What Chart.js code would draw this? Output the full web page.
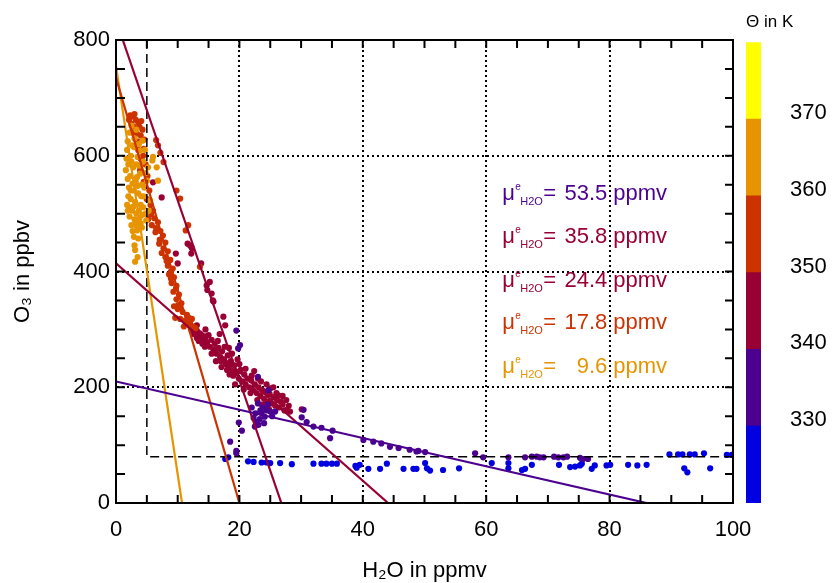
<!DOCTYPE html>
<html>
<head>
<meta charset="utf-8">
<script src="https://cdn.jsdelivr.net/npm/chart.js@4"></script>
<style>
  body { margin: 0; background: #fff; }
  #grafico { position: absolute; left: 0; top: 0; }
  #barra { position: absolute; left: 736px; top: 0; }
</style>
</head>
<body>
<canvas id="grafico" width="833" height="583"></canvas>
<canvas id="barra" width="97" height="583"></canvas>
<script>
// puntos medidos (H2O ppmv, O3 ppbv) por banda de temperatura potencial
const puntosNaranja = [
  [2.5,652],[2.9,615],[3.9,609],[2.2,640],[3.0,630],[2.4,600],[3.5,598],[2.0,585],[2.8,580],[3.9,569],
  [2.3,565],[3.2,555],[4.2,550],[2.1,545],[2.9,540],[3.6,535],[4.5,530],[2.4,525],[3.1,520],[4.0,515],
  [4.4,511],[2.6,505],[3.3,500],[4.8,500],[2.2,495],[3.0,490],[3.8,492],[4.9,488],[2.5,480],[3.4,478],
  [4.2,476],[3.4,471],[3.6,457],[3.1,437],[3.1,417],[3.5,425],[3.0,445],[6.0,598],[6.6,580],[6.8,557],
  [5.0,557],[5.5,523],[4.6,545],[5.2,580],[1.8,610],[1.6,575],[2.0,530],[4.4,590],[3.7,620],[2.7,470],
  [2.9,460],[5.3,505],[3.3,585],[4.1,530],[4.7,610],[4.3,626],[5.9,592],
  [1.9,625],[2.6,618],[3.3,645],[1.7,595],[2.5,590],[3.8,583],[1.9,560],[2.7,552],[3.5,548],[1.8,515],
  [2.8,512],[3.7,505],[4.3,498],[1.9,505],[3.2,485],[4.0,483],[2.4,540],[3.4,563],[4.8,570],[2.3,510]
];
const puntosRojo = [
  [2.3,670],[2.8,668],[3.2,662],[2.5,655],[3.8,650],[4.3,645],[2.7,640],[4.0,635],[4.6,628],[3.5,625],
  [6.5,627],[6.8,618],[7.2,605],[7.7,589],[9.8,540],[10.4,526],[11.7,480],[13.6,408],[11.3,471],
  [3.6,610],[4.4,600],[4.8,585],[3.9,575],[5.1,565],[4.5,555],[5.4,540],[5.0,525],[5.6,515],[6.0,505],
  [5.4,498],[6.2,492],[6.8,485],[6.5,475],[7.2,470],[7.6,462],[7.1,455],[8.0,450],[7.7,440],[8.4,435],
  [8.0,425],[8.8,420],[8.4,410],[9.2,405],[8.6,395],[9.4,390],[9.0,380],[9.8,375],[9.3,365],[10.2,360],
  [9.8,352],[10.6,345],[9.4,340],[10.0,335],[10.8,330],[11.5,325],[9.6,320],[10.4,318],[11.2,315],
  [12.0,310],[12.5,305],[11.0,305],[5.2,490],[5.8,480],[8.9,400],[10.1,342],
  [2.1,662],[3.0,672],[3.6,658],[4.1,660],[2.9,650],[3.4,638],[4.5,612],[4.0,595],[5.7,500],[6.4,468],
  [7.0,448],[7.4,432],[8.2,418],[8.9,388],[9.7,370],[10.3,338],[11.8,320],[12.3,318],[12.9,302]
];
const puntosCarmesi = [
  [6.0,554],[7.4,528],[12.0,445],[12.3,440],[15.2,382],[15.5,362],[11.6,448],[12.2,431],[13.8,414],
  [14.8,368],[15.7,350],[9.7,431],[10.0,414],[14.7,376],[15.8,348],[17.4,322],[17.7,307],[13.1,307],
  [11.5,310],[12.2,300],[12.8,305],[13.1,298],[13.1,285],[13.6,293],[13.9,290],[14.2,282],[14.6,288],
  [14.0,275],[14.8,278],[15.2,270],[15.5,282],[15.8,265],[16.0,275],[16.3,258],[16.6,268],[16.9,252],
  [17.2,262],[17.0,245],[17.5,248],[17.8,240],[18.1,255],[18.3,235],[18.6,245],[18.9,228],[19.2,238],
  [19.0,220],[19.6,225],[19.9,215],[20.2,230],[20.5,210],[20.8,222],[21.0,205],[21.3,215],[21.6,200],
  [21.9,212],[22.2,195],[22.5,205],[22.8,190],[23.1,200],[23.4,185],[23.7,195],[24.0,180],[24.3,192],
  [24.6,175],[24.9,188],[25.2,172],[25.5,183],[25.8,168],[26.1,178],[26.4,165],[26.7,175],[27.0,170],
  [27.3,160],[27.6,178],[28.0,168],[28.2,158],[18.0,230],[16.2,245],[14.5,300],[20.0,240],[22.0,220],
  [23.5,210],[25.5,200],[26.0,190],[27.0,185],[27.7,161],[30.1,162],[23.6,170],[24.8,162],
  [13.4,280],[15.0,290],[16.5,280],[17.6,270],[18.8,258],[19.7,248],[21.0,232],[22.4,228],[23.0,215],
  [24.4,205],[25.0,198],[26.3,186],[15.5,258],[17.1,235],[18.4,222],[20.7,196],[22.9,178],[24.2,170],
  [21.8,190],[19.3,205],[14.4,270],[12.6,292],[16.8,292],[18.3,268]
];
const puntosPurpura = [
  [19.5,298],[19.8,267],[20.1,273],[18.5,106],[19.9,139],[20.4,125],[19.5,90],[19.5,86],
  [22.3,147],[22.5,132],[23.0,172],[23.6,155],[24.1,149],[25.0,158],[25.8,158],[22.8,140],[23.3,145],
  [23.8,165],[24.4,160],[22.6,155],[23.1,135],[24.6,170],[23.4,160],[24.0,138],[22.0,165],[25.3,150],
  [23.0,218],[24.7,195],
  [30.1,148],[30.9,140],[32.0,132],[33.3,130],[34.7,112],[35.1,125],[30.4,161],
  [40.1,109],[41.7,106],[43.0,103],[44.4,97],[45.8,95],[47.6,92],[48.7,89],[50.1,88],[49.0,90],
  [58.2,86],[59.5,79],[63.6,79],[66.3,79],[67.4,80],[68.2,80],[68.7,79],[69.3,79],[71.0,80],[71.7,79],
  [72.5,79],[73.1,80],[75.2,78],[75.7,76],[76.5,76]
];
const puntosAzul = [
  [17.7,76],[18.2,79],[21.4,72],[22.3,71],[23.6,70],[24.4,70],[25.0,69],[26.6,69],[28.5,67],[32.0,68],
  [33.3,68],[34.1,68],[35.0,68],[35.8,68],[39.0,61],[39.5,66],[40.9,59],[42.8,59],[43.9,68],[46.6,59],
  [48.2,59],[48.7,59],[50.1,69],[50.4,60],[50.9,56],[53.0,57],[55.6,60],[60.9,69],[63.6,69],[63.6,60],
  [65.8,57],[66.3,59],[67.4,66],[71.8,66],[73.6,62],[74.4,63],[75.2,65],[75.5,68],[77.1,59],[77.6,65],
  [79.5,65],[80.1,66],[83.0,66],[84.5,65],[86.0,66],[89.7,84],[91.1,84],[91.8,84],[92.1,60],[92.6,53],
  [93.0,84],[93.8,84],[95.3,86],[96.3,60],[99.0,83],[99.8,83],[38.8,64]
];

// rectas de ajuste (extremos)
const rectaNaranja = [[0,755],[10.7,0]];
const rectaRojo = [[0,735],[20,0]];
const rectaCarmesi1 = [[1.1,800],[26.8,0]];
const rectaCarmesi2 = [[0,414],[44.1,0]];
const rectaPurpura = [[0,210],[86,0]];
const limites = [[5,800],[5,80],[100,80]];

// etiquetas mu
const valoresMu = ["53.5", "35.8", "24.4", "17.8", "9.6"];
const filasMu = [523, 449, 374, 300, 225];
const coloresMu = ["#4B0090", "#990033", "#990033", "#CC3300", "#E69500"];

// barra de colores
const limitesTheta = [320, 330, 340, 350, 360, 370];
const coloresTheta = ["#0000E0", "#4B0090", "#990033", "#CC3300", "#E69500", "#FFFF00"];

const fuente = '"Liberation Sans", Arial, Helvetica, sans-serif';
const aXY = arr => arr.map(p => ({ x: p[0], y: p[1] }));

function puntos(datos, color) {
  return { data: aXY(datos), backgroundColor: color, borderWidth: 0, pointRadius: 3.1, showLine: false };
}
function recta(datos, color, dash) {
  return { data: aXY(datos), borderColor: color, borderWidth: dash ? 1.5 : 2.2, borderDash: dash || [],
           pointRadius: 0, showLine: true, fill: false };
}

const marco = {
  id: "marco",
  afterDatasetsDraw(chart) {
    const { ctx, chartArea: a, scales } = chart;
    ctx.save();
    ctx.strokeStyle = "#000";
    ctx.lineWidth = 2;
    ctx.setLineDash([]);
    ctx.beginPath();
    scales.x.ticks.forEach(t => {
      if (t.value === 0 || t.value === 100) return;
      const px = scales.x.getPixelForValue(t.value);
      ctx.moveTo(px, a.bottom); ctx.lineTo(px, a.bottom - 8);
      ctx.moveTo(px, a.top); ctx.lineTo(px, a.top + 8);
    });
    scales.y.ticks.forEach(t => {
      if (t.value === 0 || t.value === 800) return;
      const py = scales.y.getPixelForValue(t.value);
      ctx.moveTo(a.left, py); ctx.lineTo(a.left + 9, py);
      ctx.moveTo(a.right, py); ctx.lineTo(a.right - 8, py);
    });
    ctx.stroke();
    ctx.strokeRect(a.left, a.top, a.right - a.left, a.bottom - a.top);
    ctx.restore();
  }
};

const textosMu = {
  id: "textosMu",
  afterDatasetsDraw(chart) {
    const { ctx, scales } = chart;
    const x0 = scales.x.getPixelForValue(62.6);
    ctx.save();
    filasMu.forEach((fila, i) => {
      const y = scales.y.getPixelForValue(fila);
      ctx.fillStyle = coloresMu[i];
      ctx.textBaseline = "alphabetic";
      ctx.textAlign = "left";
      ctx.font = "22px " + fuente;
      ctx.fillText("μ", x0, y);
      ctx.font = "10px " + fuente;
      ctx.fillText("e", x0 + 13, y - 10);
      ctx.font = "11px " + fuente;
      ctx.fillText("H2O", x0 + 18, y + 5);
      ctx.font = "22px " + fuente;
      ctx.fillText("=", x0 + 41, y);
      ctx.textAlign = "right";
      ctx.fillText(valoresMu[i], x0 + 105, y);
      ctx.textAlign = "left";
      ctx.fillText("ppmv", x0 + 111, y);
    });
    ctx.restore();
  }
};

new Chart(document.getElementById("grafico"), {
  type: "scatter",
  data: {
    datasets: [
      recta(rectaPurpura, "#4B0090"),
      recta(rectaCarmesi2, "#990033"),
      recta(rectaCarmesi1, "#990033"),
      recta(rectaRojo, "#CC3300"),
      recta(rectaNaranja, "#E69500"),
      recta(limites, "#000", [9, 5]),
      puntos(puntosNaranja, "#E69500"),
      puntos(puntosPurpura, "#4B0090"),
      puntos(puntosRojo, "#CC3300"),
      puntos(puntosCarmesi, "#990033"),
      puntos(puntosAzul, "#0000E0")
    ]
  },
  options: {
    responsive: false,
    animation: false,
    layout: { padding: { top: 40, right: 100, left: 0, bottom: 0 } },
    plugins: { legend: { display: false }, tooltip: { enabled: false } },
    scales: {
      x: {
        type: "linear", min: 0, max: 100,
        ticks: {
          stepSize: 5, autoSkip: false, maxRotation: 0, padding: 14, color: "#000",
          font: { family: fuente, size: 22 },
          callback: v => (v % 20 === 0 ? v : "")
        },
        grid: {
          drawTicks: false, lineWidth: 2,
          color: c => (c.tick && c.tick.value % 20 === 0 && c.tick.value > 0 && c.tick.value < 100) ? "#000" : "rgba(0,0,0,0)"
        },
        border: { color: "#000", width: 2, dash: [2, 3] },
        title: { display: true, text: "H₂O in ppmv", color: "#000", font: { family: fuente, size: 22, lineHeight: 1 }, padding: { top: 0, bottom: 1 } },
        afterFit: s => { s.height = 80; }
      },
      y: {
        type: "linear", min: 0, max: 800,
        ticks: {
          stepSize: 50, autoSkip: false, padding: 6, color: "#000",
          font: { family: fuente, size: 22 },
          callback: v => (v % 200 === 0 ? v : "")
        },
        grid: {
          drawTicks: false, lineWidth: 2,
          color: c => (c.tick && c.tick.value % 200 === 0 && c.tick.value > 0 && c.tick.value < 800) ? "#000" : "rgba(0,0,0,0)"
        },
        border: { color: "#000", width: 2, dash: [2, 3] },
        title: { display: true, text: "O₃ in ppbv", color: "#000", font: { family: fuente, size: 22, lineHeight: 1 }, padding: { top: 12, bottom: 0 } },
        afterFit: s => { s.width = 116; }
      }
    }
  },
  plugins: [marco, textosMu]
});

new Chart(document.getElementById("barra"), {
  type: "bar",
  data: {
    labels: [""],
    datasets: limitesTheta.map((b, i) => ({
      data: [[b, b + 10]], backgroundColor: coloresTheta[i], borderWidth: 0,
      barPercentage: 1, categoryPercentage: 1
    }))
  },
  options: {
    responsive: false,
    animation: false,
    layout: { padding: { left: 10, bottom: 80, top: 0, right: 0 } },
    plugins: {
      legend: { display: false },
      tooltip: { enabled: false },
      title: { display: true, text: "Θ in K", align: "start", color: "#000",
               font: { family: fuente, size: 17, weight: "normal", lineHeight: 1.2 },
               padding: { top: 10, bottom: 9.6 } }
    },
    scales: {
      x: { display: false, stacked: true },
      y: {
        position: "right", min: 320, max: 380,
        ticks: { stepSize: 10, padding: 29, labelOffset: -6, color: "#000",
                 font: { family: fuente, size: 22 },
                 callback: v => (v === 320 || v === 380 ? "" : v) },
        grid: { display: false, drawTicks: false },
        border: { display: false },
        afterFit: s => { s.width = 72; }
      }
    }
  }
});
</script>
</body>
</html>
